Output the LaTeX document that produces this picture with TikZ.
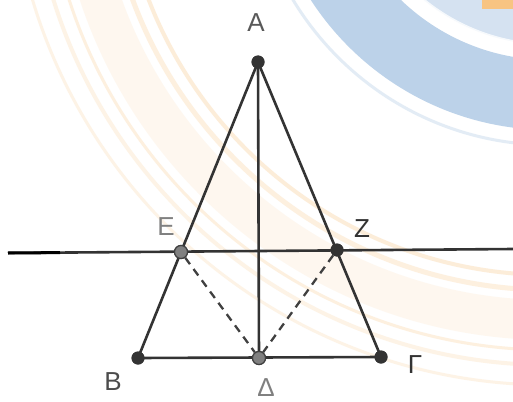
\documentclass[tikz,border=0pt]{standalone}
\usepackage{fontspec}
\setmainfont{Liberation Sans}
\definecolor{wmblue}{RGB}{185,208,232}
\definecolor{wmorange}{RGB}{248,196,130}
\begin{document}
\begin{tikzpicture}[x=1pt,y=-1pt,
  seg/.style={draw=black!80, line width=2.6pt},
  dsh/.style={draw=black!75, line width=2.3pt, dash pattern=on 8pt off 6pt},
  dk/.style={circle, fill=black!80, inner sep=0pt, minimum size=13pt},
  gy/.style={circle, fill=black!50, draw=black!75, line width=1.2pt, inner sep=0pt, minimum size=13pt},
  lbl/.style={font=\fontsize{26}{30}\selectfont, inner sep=0pt},
  bgo/.style={draw=wmorange},
  bgb/.style={draw=wmblue}]
\useasboundingbox (0,0) rectangle (513,401);
\fill[white] (0,0) rectangle (513,401);
% faint background watermark arcs
\begin{scope}
\clip (0,0) rectangle (513,401);
\coordinate (W) at (550,-155);
\draw[bgb, line width=70pt, opacity=0.95] (W) circle[radius=250];
\draw[bgb, line width=40pt, opacity=0.6] (W) circle[radius=180];
\draw[white, line width=3pt, opacity=0.8] (W) circle[radius=200];
\draw[bgb, line width=3pt, opacity=0.4] (W) circle[radius=300];
\draw[bgo, line width=40pt, opacity=0.12] (W) circle[radius=475];
\draw[bgo, line width=40pt, opacity=0.3] (W) ++(-80:475) arc[start angle=-80, end angle=-118, radius=475];
\foreach \e in {-123,-128,-133,-138}
  \draw[bgo, line width=40pt, opacity=0.1] (W) ++(-80:475) arc[start angle=-80, end angle=\e, radius=475];
\draw[bgo, line width=4pt, opacity=0.3] (W) circle[radius=430];
\draw[bgo, line width=5pt, opacity=0.25] (W) circle[radius=445];
\draw[bgo, line width=3pt, opacity=0.25] (W) circle[radius=505];
\draw[bgo, line width=4pt, opacity=0.2] (W) circle[radius=520];
\draw[bgo, line width=3pt, opacity=0.2] (W) circle[radius=540];
\fill[wmorange] (482,0) rectangle (513,9);
\end{scope}
% points
\coordinate (L) at (8,253);
\coordinate (Lm) at (60,252.6);
\coordinate (R) at (513,249);
\node[dk] (A) at (258,62) {};
\node[dk] (B) at (138,358) {};
\node[dk] (G) at (381,357) {};
\node[gy] (D) at (259,358) {};
\node[gy] (E) at (181,252) {};
\node[dk] (Z) at (337,250) {};
% lines
\draw[seg] (L) -- (R);
\draw[draw=black, line width=3pt] (L) -- (Lm);
\draw[seg] (A.center) -- (B.center);
\draw[seg] (A.center) -- (G.center);
\draw[seg] (A.center) -- (D.center);
\draw[seg] (B.center) -- (G.center);
\draw[dsh] (E) -- (D);
\draw[dsh] (Z) -- (D);
% redraw points on top
\node[dk] at (A) {};
\node[dk] at (B) {};
\node[dk] at (G) {};
\node[gy] at (D) {};
\node[gy] at (E) {};
\node[dk] at (Z) {};
% labels
\node[lbl, text=black!65] (lA) at (256,23) {A};
\node[lbl, text=black!50] (lE) at (166,227) {E};
\node[lbl, text=black!80] (lZ) at (362,229) {Z};
\node[lbl, text=black!70] (lB) at (113,382) {B};
\node[lbl, text=black!80] (lG) at (415,365) {Γ};
\node[lbl, text=black!50] (lD) at (266,388) {Δ};
\end{tikzpicture}
\end{document}
